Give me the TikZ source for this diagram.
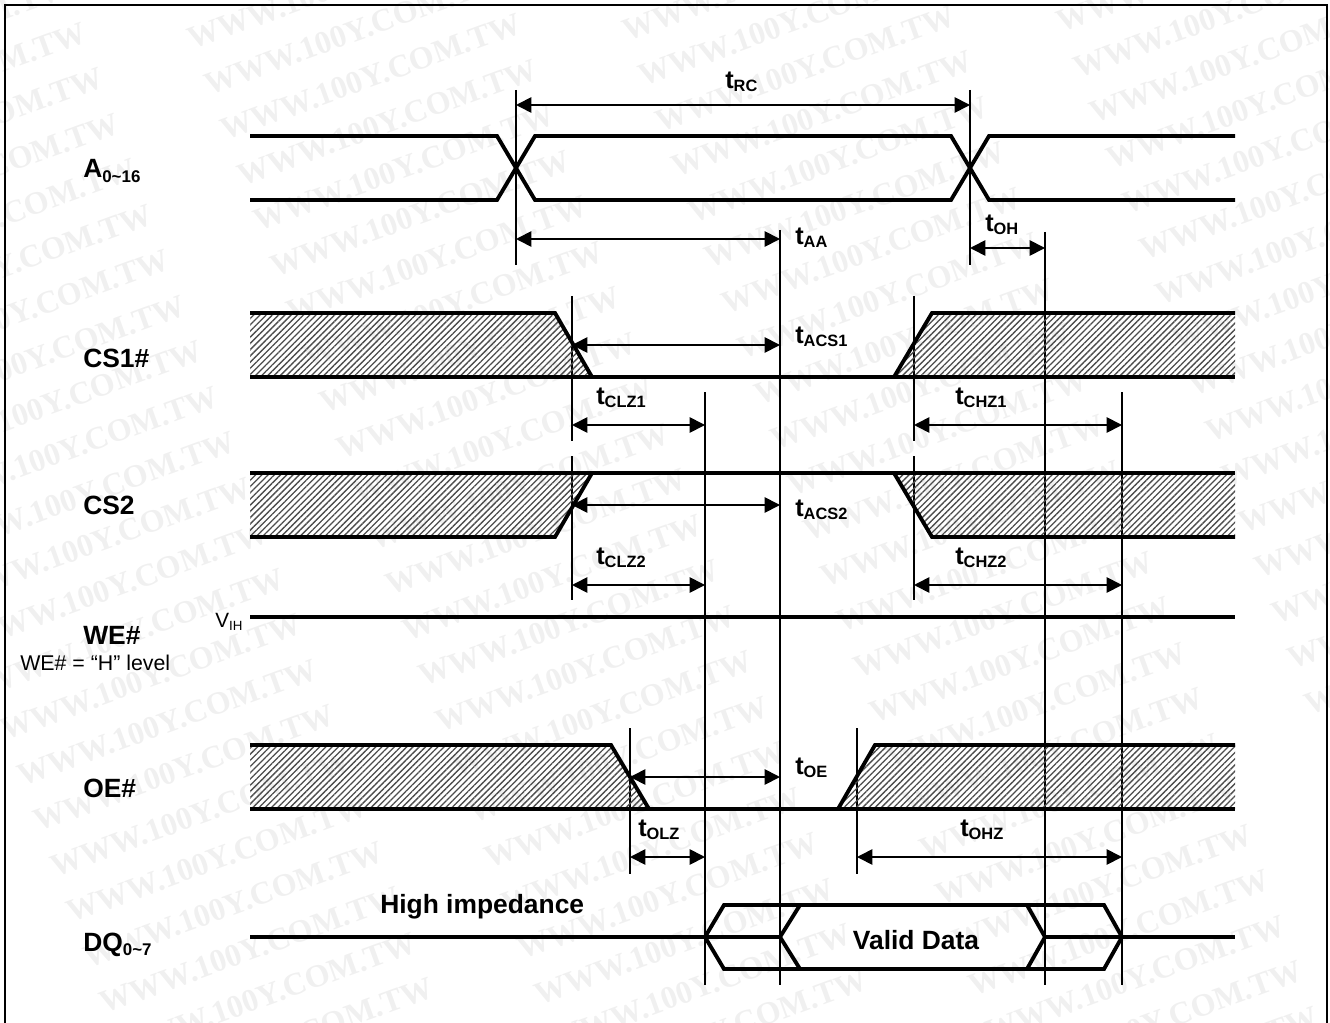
\documentclass[tikz,border=0pt]{standalone}
\usepackage{fontspec}
\setmainfont{Liberation Sans}
\newfontfamily\wmfont{Liberation Serif}
\usetikzlibrary{arrows.meta,patterns.meta}
\tikzset{
  sig/.style={line width=2.9pt,line join=miter},
  tick/.style={line width=1.2pt},
  dim/.style={line width=1.3pt,{Triangle[length=11.5pt,width=11.5pt]}-{Triangle[length=11.5pt,width=11.5pt]}},
  hatch/.style={pattern={Lines[angle=45,distance=3.3pt,line width=1pt]},pattern color=black!70},
  sigl/.style={font=\fontsize{19.8}{20}\selectfont\bfseries,anchor=west,inner sep=0pt},
  tl/.style={font=\fontsize{19}{20}\selectfont\bfseries,anchor=west,inner sep=0pt},
  wm/.style={font=\wmfont\bfseries\fontsize{24}{24}\selectfont,text=black!6,rotate=20,inner sep=0pt}
}
\newcommand{\tname}[1]{t\textsubscript{\fontsize{12.3}{12}\selectfont #1}}
\newcommand{\sname}[1]{\textsubscript{\fontsize{12.7}{12}\selectfont #1}}
\begin{document}
\begin{tikzpicture}[x=0.75pt,y=-0.75pt]
\useasboundingbox (0,0) rectangle (1330,1023);
\foreach \col in {-1,...,4} {
  \foreach \row in {-6,...,34} {
    \pgfmathsetmacro\xc{338+385*\col+16.5*\row}
    \pgfmathsetmacro\yc{-14-145*\col+45.5*\row}
    \pgfmathtruncatemacro\keep{and(and(\xc>-130,\xc<1460),and(\yc>-50,\yc<1070))}
    \ifnum\keep=1
      \node[wm] (w\col r\row) at (\xc,\yc) {WWW.100Y.COM.TW};
    \fi
  }
}
\draw[line width=1.7pt] (5,1023) -- (5,5) -- (1327,5) -- (1327,1023);

% tick marks
\coordinate (ta) at (516,90);  \coordinate (tb) at (516,265);
\coordinate (tc) at (970,90);  \coordinate (td) at (970,265);
\coordinate (te) at (780,230); \coordinate (tf) at (780,985);
\coordinate (tg) at (1045,232); \coordinate (th) at (1045,985);
\coordinate (ti) at (572,296); \coordinate (tj) at (572,441);
\coordinate (tk) at (705,392); \coordinate (tl) at (705,985);
\coordinate (tm) at (914,296); \coordinate (tn) at (914,441);
\coordinate (to) at (1122,392); \coordinate (tp) at (1122,985);
\coordinate (tq) at (572,456); \coordinate (tr) at (572,600);
\coordinate (ts) at (914,456); \coordinate (tt) at (914,600);
\coordinate (tu) at (630,728); \coordinate (tv) at (630,874);
\coordinate (tw) at (857,728); \coordinate (tx) at (857,874);
\foreach \a/\b in {ta/tb,tc/td,te/tf,tg/th,ti/tj,tk/tl,tm/tn,to/tp,tq/tr,ts/tt,tu/tv,tw/tx}
  \draw[tick] (\a) -- (\b);

% A
\draw[sig] (250,136) -- (497,136) -- (535,200) -- (951,200) -- (989,136) -- (1235,136);
\draw[sig] (250,200) -- (497,200) -- (535,136) -- (951,136) -- (989,200) -- (1235,200);
% CS1
\fill[hatch] (250,313) -- (555,313) -- (592,377) -- (250,377) -- cycle;
\fill[hatch] (894,377) -- (932,313) -- (1235,313) -- (1235,377) -- cycle;
\draw[sig] (250,313) -- (555,313) -- (592,377);
\draw[sig] (894,377) -- (932,313) -- (1235,313);
\draw[sig] (250,377) -- (1235,377);
% CS2
\fill[hatch] (250,473) -- (592,473) -- (555,537) -- (250,537) -- cycle;
\fill[hatch] (894,473) -- (932,537) -- (1235,537) -- (1235,473) -- cycle;
\draw[sig] (250,537) -- (555,537) -- (592,473);
\draw[sig] (894,473) -- (932,537) -- (1235,537);
\draw[sig] (250,473) -- (1235,473);
% WE
\draw[sig] (250,617) -- (1235,617);
% OE
\fill[hatch] (250,745) -- (611,745) -- (649,809) -- (250,809) -- cycle;
\fill[hatch] (838,809) -- (875,745) -- (1235,745) -- (1235,809) -- cycle;
\draw[sig] (250,745) -- (611,745) -- (649,809);
\draw[sig] (838,809) -- (875,745) -- (1235,745);
\draw[sig] (250,809) -- (1235,809);
% DQ
\draw[sig] (250,937) -- (780,937);
\draw[sig] (1045,937) -- (1235,937);
\draw[sig] (705,937) -- (724,905) -- (1104,905) -- (1122,937) -- (1104,969) -- (724,969) -- cycle;
\draw[sig] (800,905) -- (780,937) -- (800,969);
\draw[sig] (1027,905) -- (1045,937) -- (1027,969);

% dimensions
\coordinate (rcl) at (516,105);  \coordinate (rcr) at (970,105);
\coordinate (aal) at (516,239);  \coordinate (aar) at (780,239);
\coordinate (ohl) at (970,248);  \coordinate (ohr) at (1045,248);
\coordinate (as1l) at (572,345); \coordinate (as1r) at (780,345);
\coordinate (cz1l) at (572,425); \coordinate (cz1r) at (705,425);
\coordinate (hz1l) at (914,425); \coordinate (hz1r) at (1122,425);
\coordinate (as2l) at (572,505); \coordinate (as2r) at (780,505);
\coordinate (cz2l) at (572,585); \coordinate (cz2r) at (705,585);
\coordinate (hz2l) at (914,585); \coordinate (hz2r) at (1122,585);
\coordinate (oel) at (630,777);  \coordinate (oer) at (780,777);
\coordinate (olzl) at (630,857); \coordinate (olzr) at (705,857);
\coordinate (ohzl) at (857,857); \coordinate (ohzr) at (1122,857);
\foreach \a/\b in {rcl/rcr,aal/aar,ohl/ohr,as1l/as1r,cz1l/cz1r,hz1l/hz1r,as2l/as2r,cz2l/cz2r,hz2l/hz2r,oel/oer,olzl/olzr,ohzl/ohzr}
  \draw[dim] (\a) -- (\b);

% timing labels
\node[tl] (lrc) at (725,82) {\tname{RC}};
\node[tl] (laa) at (795,238) {\tname{AA}};
\node[tl] (loh) at (985,225) {\tname{OH}};
\node[tl] (las1) at (795,337) {\tname{ACS1}};
\node[tl] (lcz1) at (596,398) {\tname{CLZ1}};
\node[tl] (lhz1) at (955,398) {\tname{CHZ1}};
\node[tl] (las2) at (795,510) {\tname{ACS2}};
\node[tl] (lcz2) at (596,558) {\tname{CLZ2}};
\node[tl] (lhz2) at (955,558) {\tname{CHZ2}};
\node[tl] (loe) at (795,768) {\tname{OE}};
\node[tl] (lolz) at (638,830) {\tname{OLZ}};
\node[tl] (lohz) at (960,830) {\tname{OHZ}};

% signal labels
\node[sigl] (la) at (83,171) {A\sname{0\textasciitilde 16}};
\node[sigl] (lc1) at (83,358) {CS1\#};
\node[sigl] (lc2) at (83,505) {CS2};
\node[sigl] (lwe) at (83,635) {WE\#};
\node[sigl] (lhl) at (20,663) {\fontsize{16}{16}\mdseries\selectfont WE\# = “H” level};
\node[sigl] (lvih) at (215,622) {\fontsize{15.5}{16}\mdseries\selectfont V\textsubscript{\fontsize{10}{10}\selectfont IH}};
\node[sigl] (loe2) at (83,788) {OE\#};
\node[sigl] (ldq) at (83,945) {DQ\sname{0\textasciitilde 7}};
\node[sigl] (lhi) at (380,907) {High impedance};
\node[sigl,anchor=center] (lvd) at (916,940) {Valid Data};
\end{tikzpicture}
\end{document}
